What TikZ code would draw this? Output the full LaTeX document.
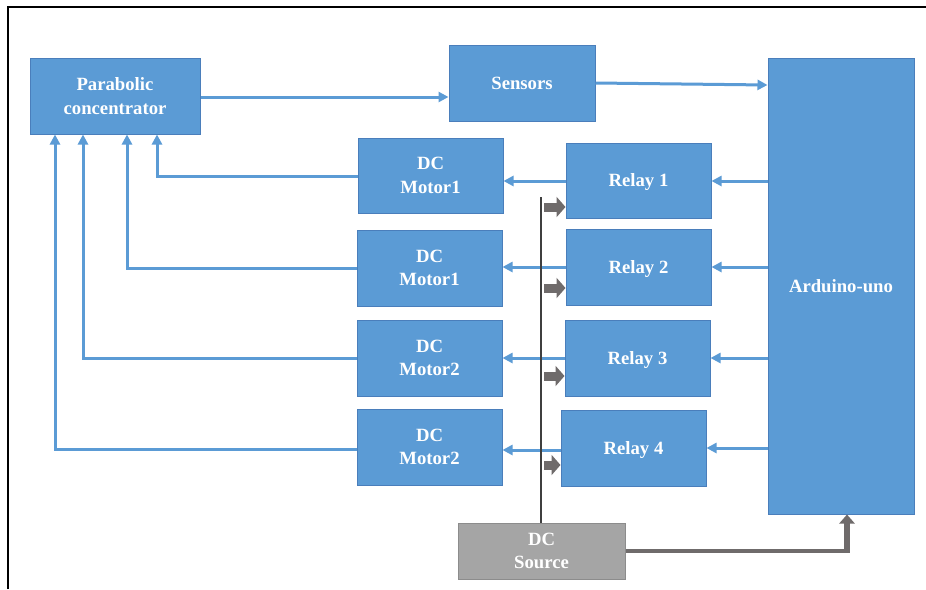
\documentclass[tikz,border=0pt]{standalone}
\usepackage{fontspec}
\setmainfont{Liberation Serif}
\usetikzlibrary{arrows.meta,calc}
\definecolor{bfill}{HTML}{5B9BD5}
\definecolor{bdraw}{HTML}{4A7EBB}
\definecolor{gfill}{HTML}{A5A5A5}
\definecolor{gdraw}{HTML}{8C8C8C}
\definecolor{busc}{HTML}{3F3F3F}
\definecolor{fatc}{HTML}{6F6B6B}
\tikzset{
  box/.style={draw=bdraw, fill=bfill, line width=1pt, text=white, font=\bfseries\fontsize{18.7}{23.5}\selectfont, align=center, inner sep=0pt, text depth=0pt},
  gbox/.style={box, draw=gdraw, fill=gfill},
  barrow/.style={draw=bfill, line width=3pt, -{Triangle[length=10pt,width=10pt]}},
  busline/.style={draw=busc, line width=2.8pt},
  fat/.style={draw=fatc, line width=9pt, -{Triangle[length=9pt,width=20pt]}},
  gline/.style={draw=fatc, line width=3.2pt},
  fatup/.style={draw=fatc, line width=6pt, -{Triangle[length=9pt,width=15pt]}}
}
\begin{document}
\begin{tikzpicture}[x=1pt,y=-1pt]
\useasboundingbox (0,0) rectangle (926,589);
\fill[white] (0,0) rectangle (926,589);
\draw[line width=2pt, black] (8,589) -- (8,7) -- (926,7);

\node[box, minimum width=170pt, minimum height=76pt] (par) at (115,96) {Parabolic\\concentrator};
\node[box, minimum width=146pt, minimum height=76pt] (sen) at (522,83) {Sensors};
\node[box, minimum width=146pt, minimum height=456pt] (ard) at (841,286) {Arduino-uno};

\node[box, minimum width=145pt, minimum height=75pt] (m1) at (430.5,175.5) {DC\\Motor1};
\node[box, minimum width=145pt, minimum height=76pt] (m2) at (429.5,268) {DC\\Motor1};
\node[box, minimum width=145pt, minimum height=76pt] (m3) at (429.5,358) {DC\\Motor2};
\node[box, minimum width=145pt, minimum height=76pt] (m4) at (429.5,447) {DC\\Motor2};

\node[box, minimum width=145pt, minimum height=75pt] (r1) at (638.5,180.5) {Relay 1};
\node[box, minimum width=145pt, minimum height=76pt] (r2) at (638.5,267) {Relay 2};
\node[box, minimum width=145pt, minimum height=76pt] (r3) at (637.5,358) {Relay 3};
\node[box, minimum width=145pt, minimum height=76pt] (r4) at (633.5,448) {Relay 4};

\node[gbox, minimum width=167pt, minimum height=56pt] (dcs) at (541.5,551) {DC\\Source};

% blue connectors
\draw[barrow] (par.east |- 0,97) -- (sen.west |- 0,97);
\draw[barrow] (sen.east |- 0,83) -- (ard.west |- 0,85);
\draw[barrow] (ard.west |- 0,181) -- (r1.east |- 0,181);
\draw[barrow] (ard.west |- 0,267) -- (r2.east |- 0,267);
\draw[barrow] (ard.west |- 0,358) -- (r3.east |- 0,358);
\draw[barrow] (ard.west |- 0,448) -- (r4.east |- 0,448);
\draw[barrow] (r1.west |- 0,181) -- (m1.east |- 0,181);
\draw[barrow] (r2.west |- 0,267) -- (m2.east |- 0,267);
\draw[barrow] (r3.west |- 0,358) -- (m3.east |- 0,358);
\draw[barrow] (r4.west |- 0,450) -- (m4.east |- 0,450);

\draw[barrow] (m1.west |- 0,176) -| ([xshift=42pt]par.south);
\draw[barrow] (m2.west |- 0,268) -| ([xshift=12pt]par.south);
\draw[barrow] (m3.west |- 0,358) -| ([xshift=-32pt]par.south);
\draw[barrow] (m4.west |- 0,449) -| ([xshift=-60pt]par.south);

% DC source bus
\coordinate (bustop) at (541,197);
\draw[busline] (dcs.north -| bustop) -- (bustop);
\draw[fat] (544,207) -- (r1.west |- 0,207);
\draw[fat] (544,288) -- (r2.west |- 0,288);
\draw[fat] (544,376) -- (r3.west |- 0,376);
\draw[fat] (544,465) -- (r4.west |- 0,465);

\coordinate (corner) at (847,551);
\draw[gline] (dcs.east |- corner) -- ([xshift=-1pt]corner);
\draw[fatup] ([yshift=-1.6pt]corner) -- (ard.south -| corner);
\end{tikzpicture}
\end{document}
